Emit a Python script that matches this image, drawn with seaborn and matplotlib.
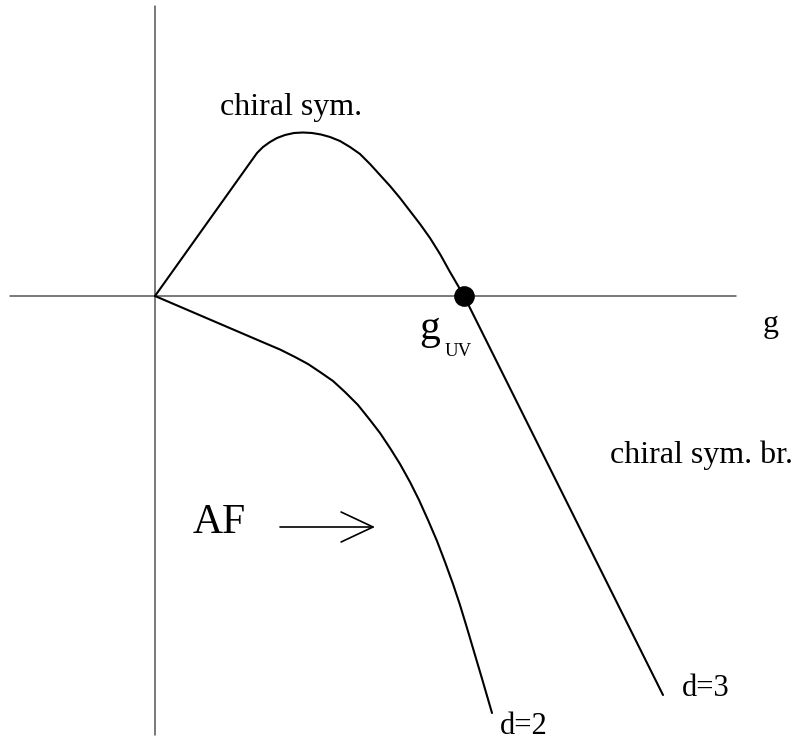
import numpy as np
import pandas as pd
import matplotlib
matplotlib.use("Agg")
import matplotlib.pyplot as plt
import seaborn as sns

# beta-function sketch, g on x, beta(g) on y
g_d3 = [0.0, 0.92, 0.97, 1.02, 1.08, 1.15, 1.22, 1.30, 1.39, 1.48, 1.57, 1.66,
        1.75, 1.85, 1.95, 2.05, 2.15, 2.25, 2.35, 2.45, 2.55, 2.65, 2.75, 2.85,
        2.95, 3.02, 3.09, 5.08]
beta_d3 = [0.0, 1.29, 1.36, 1.43, 1.49, 1.54, 1.58, 1.61, 1.63, 1.635, 1.63, 1.615,
           1.59, 1.55, 1.49, 1.42, 1.32, 1.21, 1.10, 0.98, 0.85, 0.72, 0.58, 0.42,
           0.24, 0.12, 0.0, -3.99]

g_d2 = [0.0, 1.05, 1.25, 1.40, 1.53, 1.65, 1.78, 1.90, 2.03, 2.15, 2.25, 2.35,
        2.45, 2.55, 2.64, 2.73, 2.82, 2.90, 2.98, 3.05, 3.12, 3.20, 3.28, 3.37]
beta_d2 = [0.0, -0.45, -0.535, -0.61, -0.68, -0.76, -0.85, -0.96, -1.09, -1.24,
           -1.37, -1.52, -1.68, -1.86, -2.04, -2.24, -2.45, -2.66, -2.88, -3.09,
           -3.32, -3.59, -3.86, -4.17]

g_uv = [3.09]
beta_uv = [0.0]

d3 = pd.DataFrame({"g": g_d3, "beta": beta_d3})
d2 = pd.DataFrame({"g": g_d2, "beta": beta_d2})
uv = pd.DataFrame({"g": g_uv, "beta": beta_uv})

sns.set_style("white")
plt.rcParams["font.family"] = ["Liberation Serif", "DejaVu Serif"]
plt.rcParams["text.color"] = "black"

fig = plt.figure(figsize=(7.99, 7.40), dpi=100)
ax = fig.add_axes([0, 0, 1, 1])

# coordinate axes
ax.plot([-1.45, 5.81], [0, 0], color="#555555", lw=1.1, zorder=1)
ax.plot([0, 0], [2.90, -4.39], color="#555555", lw=1.1, zorder=1)

sns.lineplot(data=d3, x="g", y="beta", sort=False, estimator=None,
             color="black", lw=1.5, ax=ax, zorder=2)
sns.lineplot(data=d2, x="g", y="beta", sort=False, estimator=None,
             color="black", lw=1.5, ax=ax, zorder=2)
sns.scatterplot(data=uv, x="g", y="beta", color="black", s=190,
                edgecolor="black", ax=ax, zorder=3)

ax.text(0.65, 1.81, "chiral sym.", fontsize=23, va="baseline")
ax.text(4.55, -1.67, "chiral sym. br.", fontsize=23, va="baseline")
ax.text(6.08, -0.36, "g", fontsize=23, va="baseline")
ax.text(2.64, -0.43, "g", fontsize=30, va="baseline")
ax.text(2.90, -0.60, "UV", fontsize=13.5, va="baseline")
ax.text(0.38, -2.37, "AF", fontsize=30, va="baseline")
ax.text(3.45, -4.38, "d=2", fontsize=22, va="baseline")
ax.text(5.27, -4.00, "d=3", fontsize=22, va="baseline")

ax.annotate("", xy=(2.20, -2.31), xytext=(1.25, -2.31),
            arrowprops=dict(arrowstyle="->,head_length=2.3,head_width=1.08",
                            mutation_scale=10, lw=1.2, color="black",
                            shrinkA=0, shrinkB=0))

ax.set_xlim(-1.55, 6.44)
ax.set_ylim(-4.44, 2.96)
ax.axis("off")

fig.savefig("out.png", dpi=100, facecolor="white")
